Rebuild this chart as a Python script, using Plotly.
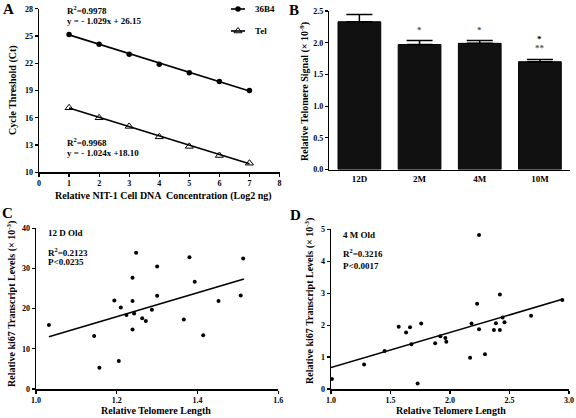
import plotly.graph_objects as go
import numpy as np

W, H = 576, 418
FONT = "Liberation Serif, Times New Roman, serif"

# ---------------- Panel A data ----------------
a_conc = [1, 2, 3, 4, 5, 6, 7]
a_36b4 = [25.15, 24.1, 23.0, 21.9, 20.95, 20.0, 19.0]
a_tel = [17.1, 16.0, 15.05, 13.9, 12.85, 11.85, 11.0]
a_fit_36b4 = [-1.029, 26.15]   # slope, intercept
a_fit_tel = [-1.024, 18.10]
a_series = ["36B4", "Tel"]

# ---------------- Panel B data ----------------
b_groups = ["12D", "2M", "4M", "10M"]
b_values = [2.33, 1.97, 1.99, 1.70]
b_errors = [0.115, 0.063, 0.045, 0.035]
b_marks = ["", "*", "*", "*"]
b_marks2 = ["", "", "", "**"]

# ---------------- Panel C data ----------------
c_x = [1.032, 1.144, 1.157, 1.194, 1.205, 1.210, 1.224, 1.239, 1.239, 1.239, 1.243, 1.248,
       1.263, 1.272, 1.287, 1.300, 1.300, 1.366, 1.380, 1.393, 1.414, 1.452, 1.507, 1.513]
c_y = [15.9, 13.2, 5.3, 22.0, 7.0, 20.3, 18.4, 27.7, 21.9, 14.8, 18.8, 33.9,
       17.6, 16.9, 19.7, 30.5, 23.2, 17.3, 32.8, 26.7, 13.4, 21.9, 23.3, 32.5]
c_fit_x = [1.032, 1.515]
c_fit_y = [13.0, 27.4]

# ---------------- Panel D data ----------------
d_x = [1.008, 1.278, 1.450, 1.569, 1.631, 1.664, 1.675, 1.728, 1.758, 1.875, 1.919, 1.961,
       1.969, 2.169, 2.181, 2.228, 2.244, 2.244, 2.294, 2.369, 2.386, 2.419, 2.419, 2.442,
       2.458, 2.681, 2.944]
d_y = [0.31, 0.77, 1.19, 1.95, 1.77, 1.93, 1.40, 0.17, 2.05, 1.43, 1.65, 1.60,
       1.48, 0.98, 2.05, 2.67, 4.82, 1.87, 1.09, 1.85, 2.06, 2.96, 1.85, 2.24,
       2.09, 2.29, 2.79]
d_fit_x = [1.0, 2.944]
d_fit_y = [0.67, 2.81]


def px(x, y):
    return x / W, 1 - y / H


MARK_36B4 = dict(symbol="circle", size=5.5, color="black")
MARK_TEL = dict(symbol="triangle-up-open", size=7, color="black", line=dict(width=1))

fig = go.Figure()

# Panel A
xa = np.array([1, 7])
fig.add_trace(go.Scatter(x=xa, y=a_fit_36b4[0] * xa + a_fit_36b4[1], mode="lines",
                         line=dict(color="black", width=1.6), showlegend=False,
                         xaxis="x", yaxis="y"))
fig.add_trace(go.Scatter(x=xa, y=a_fit_tel[0] * xa + a_fit_tel[1], mode="lines",
                         line=dict(color="black", width=1.6), showlegend=False,
                         xaxis="x", yaxis="y"))
fig.add_trace(go.Scatter(x=a_conc, y=a_36b4, mode="markers", showlegend=False, name="36B4",
                         marker=MARK_36B4, xaxis="x", yaxis="y", cliponaxis=False))
fig.add_trace(go.Scatter(x=a_conc, y=a_tel, mode="markers", showlegend=False, name="Tel",
                         marker=MARK_TEL, xaxis="x", yaxis="y", cliponaxis=False))

# Legend keys for panel A, drawn on a pixel-scaled overlay axis
LEG_X0, LEG_X1, LEG_Y, LEG_DY = 231, 245, 9, 22
for i, (nm, mk) in enumerate(zip(a_series, [MARK_36B4, MARK_TEL])):
    yy = LEG_Y + i * LEG_DY
    fig.add_trace(go.Scatter(x=[LEG_X0, (LEG_X0 + LEG_X1) / 2, LEG_X1], y=[yy, yy, yy],
                             mode="lines", line=dict(color="black", width=1.6),
                             showlegend=False, hoverinfo="skip", xaxis="x5", yaxis="y5"))
    fig.add_trace(go.Scatter(x=[(LEG_X0 + LEG_X1) / 2], y=[yy], mode="markers", marker=mk,
                             showlegend=False, hoverinfo="skip", xaxis="x5", yaxis="y5",
                             cliponaxis=False))

# Panel B
fig.add_trace(go.Bar(x=b_groups, y=b_values, width=0.71,
                     marker=dict(color="#111111", line=dict(color="black", width=1)),
                     error_y=dict(type="data", symmetric=False, array=b_errors,
                                  arrayminus=[0] * len(b_errors), color="black",
                                  thickness=1.5, width=13),
                     showlegend=False, xaxis="x2", yaxis="y2"))

# Panel C
fig.add_trace(go.Scatter(x=c_fit_x, y=c_fit_y, mode="lines",
                         line=dict(color="black", width=1.6), showlegend=False,
                         xaxis="x3", yaxis="y3"))
fig.add_trace(go.Scatter(x=c_x, y=c_y, mode="markers", showlegend=False,
                         marker=dict(size=4, color="black"), cliponaxis=False,
                         xaxis="x3", yaxis="y3"))

# Panel D
fig.add_trace(go.Scatter(x=d_fit_x, y=d_fit_y, mode="lines",
                         line=dict(color="black", width=1.6), showlegend=False,
                         xaxis="x4", yaxis="y4"))
fig.add_trace(go.Scatter(x=d_x, y=d_y, mode="markers", showlegend=False,
                         marker=dict(size=4, color="black"), cliponaxis=False,
                         xaxis="x4", yaxis="y4"))

tickfont = dict(family=FONT, size=8, color="black", weight="bold")
axis_common = dict(showline=True, linecolor="black", linewidth=1.5, ticks="outside",
                   ticklen=3, tickwidth=1.2, tickcolor="black", showgrid=False,
                   zeroline=False, tickfont=tickfont)

fig.update_layout(
    width=W, height=H,
    margin=dict(l=0, r=0, t=0, b=0, autoexpand=False),
    paper_bgcolor="white", plot_bgcolor="rgba(0,0,0,0)",
    font=dict(family=FONT, color="black"),
    showlegend=False,
    xaxis=dict(domain=[39 / W, 279.5 / W], range=[0, 8], dtick=1, anchor="y", **axis_common),
    yaxis=dict(domain=[1 - 172.3 / H, 1 - 8.7 / H], range=[10, 28], dtick=3, tick0=10,
               anchor="x", **axis_common),
    xaxis2=dict(domain=[329.3 / W, 570 / W], range=[-0.5, 3.5], type="category", anchor="y2",
                **{**axis_common, "ticks": "", "tickfont": dict(family=FONT, size=9,
                                                                  color="black", weight="bold")}),
    yaxis2=dict(domain=[1 - 169.5 / H, 1 - 11 / H], range=[0, 2.5], dtick=0.5, tickformat=".1f",
                anchor="x2", **axis_common),
    xaxis3=dict(domain=[36 / W, 278.3 / W], range=[1.0, 1.6], dtick=0.2, tickformat=".1f",
                anchor="y3", **axis_common),
    yaxis3=dict(domain=[1 - 389 / H, 1 - 228.3 / H], range=[0, 40], dtick=10, anchor="x3",
                **axis_common),
    xaxis4=dict(domain=[331 / W, 569 / W], range=[1.0, 3.0], dtick=0.5, tickformat=".1f",
                anchor="y4", **axis_common),
    yaxis4=dict(domain=[1 - 389 / H, 1 - 229.3 / H], range=[0, 5], dtick=1, anchor="x4",
                **axis_common),
    xaxis5=dict(domain=[0, 1], range=[0, W], visible=False, fixedrange=True, anchor="y5"),
    yaxis5=dict(domain=[0, 1], range=[H, 0], visible=False, fixedrange=True, anchor="x5"),
)

ann = []


def add_text(text, x, y, size=9, xanchor="center", yanchor="middle", angle=0, color="black"):
    xx, yy = px(x, y)
    ann.append(dict(text=text, x=xx, y=yy, xref="paper", yref="paper", showarrow=False,
                    xanchor=xanchor, yanchor=yanchor, textangle=angle,
                    font=dict(family=FONT, size=size, color=color, weight="bold")))


# Panel letters
add_text("A", 8, 9, size=15)
add_text("B", 294, 10, size=15)
add_text("C", 7, 213, size=15)
add_text("D", 295, 215, size=15)

# Legend labels
for i, nm in enumerate(a_series):
    add_text(nm, 253, LEG_Y + i * LEG_DY, size=9, xanchor="left")

# Axis titles
add_text("Cycle Threshold (Ct)", 13, 90, size=10, angle=-90)
add_text("Relative NIT-1 Cell DNA  Concentration (Log2 ng)", 163, 196, size=10)
add_text("Relative Telomere Signal (× 10<sup>-9</sup>)", 304, 92, size=10, angle=-90)
add_text("Relative ki67 Transcript Levels (× 10<sup>-3</sup>)", 11, 304, size=10, angle=-90)
add_text("Relative Telomere Length", 156, 410, size=10)
add_text("Relative ki67 Transcript Levels (× 10<sup>-3</sup>)", 309, 301, size=10, angle=-90)
add_text("Relative Telomere Length", 451, 410, size=10)

# Panel A equations
add_text("R<sup>2</sup>=0.9978", 65, 10, size=9, xanchor="left")
add_text("y = - 1.029x + 26.15", 65, 21, size=9, xanchor="left")
add_text("R<sup>2</sup>=0.9968", 65, 142, size=9, xanchor="left")
add_text("y = - 1.024x +18.10", 65, 153, size=9, xanchor="left")

# Panel C / D stats
add_text("12 D Old", 46, 233, size=9, xanchor="left")
add_text("R<sup>2</sup>=0.2123", 46, 252, size=9, xanchor="left")
add_text("P<0.0235", 46, 262, size=9, xanchor="left")
add_text("4 M Old", 341, 235, size=9, xanchor="left")
add_text("R<sup>2</sup>=0.3216", 341, 253, size=9, xanchor="left")
add_text("P<0.0017", 341, 266, size=9, xanchor="left")

# Panel B significance marks (data coords)
for g, v, e, m1, m2 in zip(b_groups, b_values, b_errors, b_marks, b_marks2):
    if m1:
        if m2:
            ann.append(dict(text=m1, x=g, y=v + e + 0.32, xref="x2", yref="y2", showarrow=False,
                            yanchor="middle",
                            font=dict(family=FONT, size=9, color="black", weight="bold")))
            ann.append(dict(text=m2, x=g, y=v + e + 0.18, xref="x2", yref="y2", showarrow=False,
                            yanchor="middle",
                            font=dict(family=FONT, size=9, color="#555555", weight="bold")))
        else:
            ann.append(dict(text=m1, x=g, y=v + e + 0.17, xref="x2", yref="y2", showarrow=False,
                            yanchor="middle",
                            font=dict(family=FONT, size=9, color="#555555", weight="bold")))

fig.update_layout(annotations=ann)
fig.write_html("out.html", config={"displayModeBar": False, "staticPlot": True},
               post_script="document.body.style.margin='0';document.body.style.overflow='hidden';")
